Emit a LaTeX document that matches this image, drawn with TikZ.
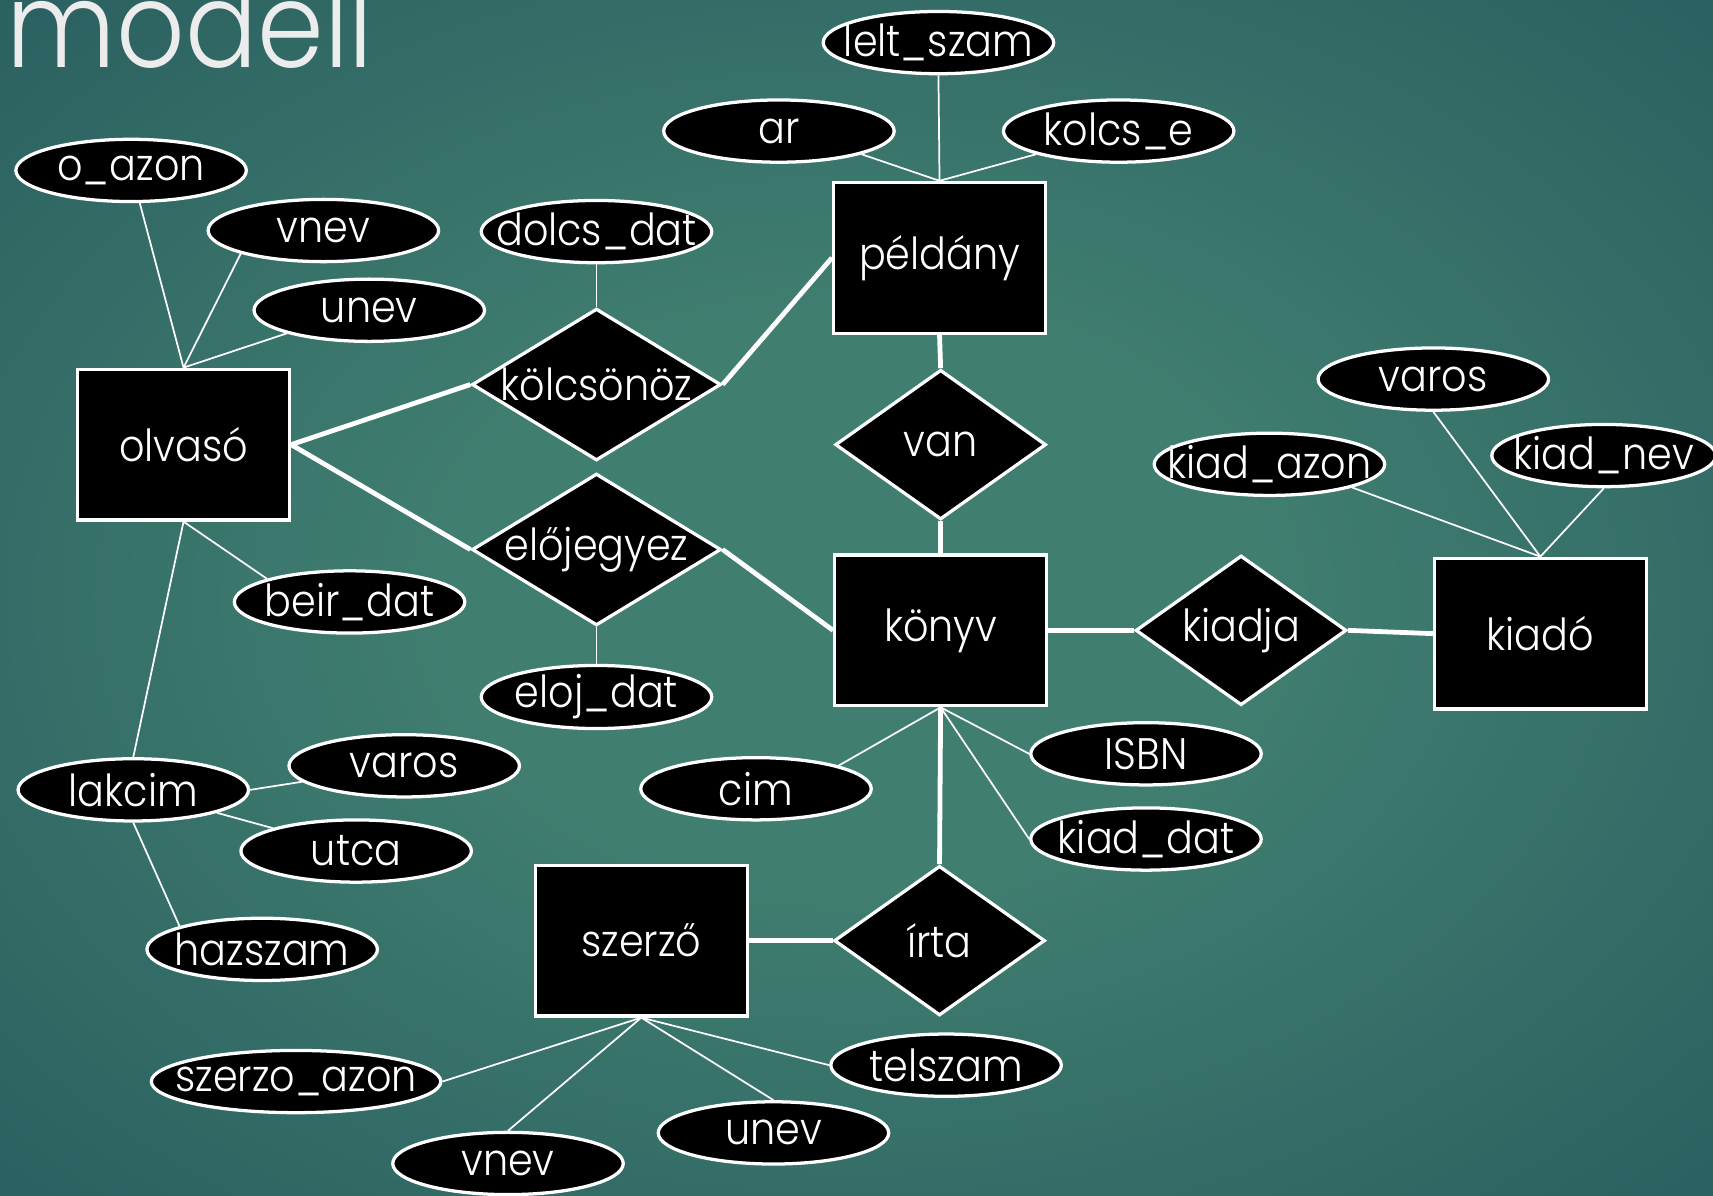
\documentclass[tikz,border=0pt]{standalone}
\usepackage{fontspec}
\IfFontExistsTF{Poppins-Light.ttf}
  {\setmainfont{Poppins-Light.ttf}[FakeStretch=0.9]}
  {\IfFontExistsTF{Poppins Light}
    {\setmainfont{Poppins Light}[FakeStretch=0.9]}
    {\setmainfont{Poppins}[FakeStretch=0.9]}}
\usetikzlibrary{shapes.geometric}

\definecolor{bgin}{RGB}{64,126,112}
\definecolor{bgout}{RGB}{29,77,86}
\definecolor{titlegray}{RGB}{236,236,236}

\pgfdeclareradialshading{slidebg}{\pgfpoint{0bp}{0bp}}{%
  color(0bp)=(bgin); color(12bp)=(bgin); color(50bp)=(bgout); color(75bp)=(bgout)}

\newcommand\lbl[1]{\makebox[0pt]{\raisebox{-1.5pt}{#1}}}

\tikzset{
  base/.style={draw=white, fill=black, text=white, inner sep=0pt,
    line width=1.7pt, font=\fontsize{23}{23}\selectfont},
  attr/.style={base, ellipse, minimum width=4.22cm, minimum height=1.14cm},
  entity/.style={base, rectangle, minimum width=3.88cm, minimum height=2.76cm},
  relwide/.style={base, diamond, minimum width=4.56cm, minimum height=2.78cm},
  relbox/.style={base, diamond, minimum width=3.86cm, minimum height=2.74cm},
  thin/.style={draw=white, line width=0.9pt},
  thick/.style={draw=white, line width=2.5pt},
}

\begin{document}
\begin{tikzpicture}[x=0.02cm, y=-0.02cm]
  % slide background
  \useasboundingbox (0,0) rectangle (1568,1094);
  \shade[shading=slidebg] (0,0) rectangle (1568,1094);

  % title
  \node[anchor=base west, inner sep=0pt, text=titlegray,
        font=\fontsize{62}{62}\selectfont] (title) at (6,62) {modell};

  % entities
  \node[entity] (olvaso)  at (168,407) {\lbl{olvasó}};
  \node[entity] (peldany) at (860,236) {\lbl{példány}};
  \node[entity] (konyv)   at (861,577) {\lbl{könyv}};
  \node[entity] (kiado)   at (1410,580) {\lbl{kiadó}};
  \node[entity] (szerzo)  at (587,861) {\lbl{szerző}};

  % relationships
  \node[relwide] (kolcson) at (546,352) {\lbl{kölcsönöz}};
  \node[relwide] (elojegy) at (546,503) {\lbl{előjegyez}};
  \node[relbox]  (van)     at (861,407) {\lbl{van}};
  \node[relbox]  (kiadja)  at (1136,577) {\lbl{kiadja}};
  \node[relbox]  (irta)    at (860,861) {\lbl{írta}};

  % attributes of olvasó
  \node[attr] (oazon)   at (120,156) {\lbl{o\_azon}};
  \node[attr] (ovnev)   at (296,211) {\lbl{vnev}};
  \node[attr] (ounev)   at (338,284) {\lbl{unev}};
  \node[attr] (beirdat) at (320,551) {\lbl{beir\_dat}};
  \node[attr] (lakcim)  at (122,723) {\lbl{lakcim}};
  \node[attr] (lvaros)  at (370,701) {\lbl{varos}};
  \node[attr] (utca)    at (326,779) {\lbl{utca}};
  \node[attr] (hazszam) at (240,869) {\lbl{hazszam}};

  % attributes of relationships
  \node[attr] (dolcs)   at (546,212) {\lbl{dolcs\_dat}};
  \node[attr] (elojdat) at (546,638) {\lbl{eloj\_dat}};

  % attributes of példány
  \node[attr] (leltszam) at (859,39)  {\lbl{lelt\_szam}};
  \node[attr] (ar)       at (713,120) {\lbl{ar}};
  \node[attr] (kolcse)   at (1024,120) {\lbl{kolcs\_e}};

  % attributes of könyv
  \node[attr] (cim)     at (692,722) {\lbl{cim}};
  \node[attr] (isbn)    at (1049,690) {\lbl{ISBN}};
  \node[attr] (kiaddat) at (1049,768) {\lbl{kiad\_dat}};

  % attributes of kiadó
  \node[attr] (kvaros)   at (1312,347) {\lbl{varos}};
  \node[attr] (kiadazon) at (1162,425) {\lbl{kiad\_azon}};
  \node[attr, minimum width=4.1cm] (kiadnev) at (1468,417) {\lbl{kiad\_nev}};

  % attributes of szerző
  \node[attr, minimum width=5.3cm] (szazon) at (271,990) {\lbl{szerzo\_azon}};
  \node[attr] (szvnev)  at (465,1065) {\lbl{vnev}};
  \node[attr] (szunev)  at (708,1037) {\lbl{unev}};
  \node[attr] (telszam) at (866,975)  {\lbl{telszam}};

  % relationship connectors
  \draw[thick] (olvaso.east) -- (kolcson.west);
  \draw[thick] (kolcson.east) -- (peldany.west);
  \draw[thick] (olvaso.east) -- (elojegy.west);
  \draw[thick] (elojegy.east) -- (konyv.west);
  \draw[thick] (peldany.south) -- (van.north);
  \draw[thick] (van.south) -- (konyv.north);
  \draw[thick] (konyv.east) -- (kiadja.west);
  \draw[thick] (kiadja.east) -- (kiado.west);
  \draw[thick] (konyv.south) -- (irta.north);
  \draw[thick] (szerzo.east) -- (irta.west);

  % attribute connectors
  \draw[thin] (oazon) -- (olvaso.north);
  \draw[thin] (ovnev.south west) -- (olvaso.north);
  \draw[thin] (ounev.south west) -- (olvaso.north);
  \draw[thin] (beirdat.north west) -- (olvaso.south);
  \draw[thin] (lakcim.north) -- (olvaso.south);
  \draw[thin] (lakcim.east) -- (lvaros);
  \draw[thin] (lakcim) -- (utca);
  \draw[thin] (lakcim.south) -- (hazszam.north west);

  \draw[thin] (dolcs.south) -- (kolcson.north);
  \draw[thin] (elojdat.north) -- (elojegy.south);

  \draw[thin] (leltszam.south) -- (peldany.north);
  \draw[thin] (ar.south east) -- (peldany.north);
  \draw[thin] (kolcse.south west) -- (peldany.north);

  \draw[thin] (cim.north east) -- (konyv.south);
  \draw[thin] (isbn.west) -- (konyv.south);
  \draw[thin] (kiaddat.west) -- (konyv.south);

  \draw[thin] (kvaros.south) -- (kiado.north);
  \draw[thin] (kiadazon.south east) -- (kiado.north);
  \draw[thin] (kiadnev.south) -- (kiado.north);

  \draw[thin] (szazon.east) -- (szerzo.south);
  \draw[thin] (szvnev.north) -- (szerzo.south);
  \draw[thin] (szunev.north) -- (szerzo.south);
  \draw[thin] (telszam.west) -- (szerzo.south);
\end{tikzpicture}
\end{document}
